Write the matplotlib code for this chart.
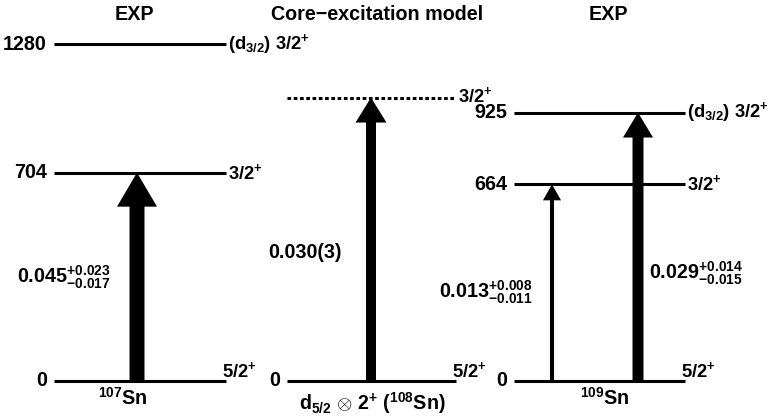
import numpy as np
import matplotlib
matplotlib.use("Agg")
import matplotlib.pyplot as plt
from matplotlib.patches import FancyArrowPatch

plt.rcParams['font.family'] = ['Liberation Sans', 'DejaVu Sans']
plt.rcParams['font.weight'] = 'bold'
plt.rcParams['mathtext.fontset'] = 'custom'
plt.rcParams['mathtext.rm'] = 'Liberation Sans:bold'
plt.rcParams['mathtext.it'] = 'Liberation Sans:bold'
plt.rcParams['mathtext.bf'] = 'Liberation Sans:bold'
plt.rcParams['mathtext.sf'] = 'Liberation Sans:bold'

# ---- level scheme data (keV) ----
panel_titles = ["EXP", "Core\u2212excitation model", "EXP"]
nucleus_labels = [r"$^{107}$Sn", r"d$_{5/2}$ $\otimes$ 2$^{+}$ ($^{108}$Sn)", r"$^{109}$Sn"]

sn107_energies = [0, 704, 1280]
sn107_spins = [r"5/2$^{+}$", r"3/2$^{+}$", r"(d$_{3/2}$) 3/2$^{+}$"]

model_energies = [0, 980]
model_spins = [r"5/2$^{+}$", r"3/2$^{+}$"]

sn109_energies = [0, 664, 925]
sn109_spins = [r"5/2$^{+}$", r"3/2$^{+}$", r"(d$_{3/2}$) 3/2$^{+}$"]

# transitions from the ground state: (final level energy, strength label)
sn107_trans = [(704, r"0.045$^{+0.023}_{-0.017}$")]
model_trans = [(980, "0.030(3)")]
sn109_trans = [(664, r"0.013$^{+0.008}_{-0.011}$"), (925, r"0.029$^{+0.014}_{-0.015}$")]

# ---- energy axis: piecewise linear, compressed at high energy ----
E_KNOTS = np.array([-500.0, 0.0, 700.0, 1000.0, 1300.0, 2000.0])
H_KNOTS = np.array([-111.1, 37.0, 244.3, 325.9, 377.4, 497.7])


def fwd(e):
    return np.interp(np.asarray(e, dtype=float), E_KNOTS, H_KNOTS)


def inv(h):
    return np.interp(np.asarray(h, dtype=float), H_KNOTS, E_KNOTS)


fig = plt.figure(figsize=(7.7, 4.18), dpi=100)
ax = fig.add_axes([0, 0, 1, 1])
ax.set_yscale('function', functions=(fwd, inv))
ax.set_xlim(0, 770)
ax.set_ylim(float(inv(0)), float(inv(418)))
ax.axis('off')

FS = 14.2
FS_SPIN = 13.2
LW = 2.2


def ypix(y_from_top):
    """Energy value at a given pixel row (measured from the top)."""
    return float(inv(418 - y_from_top))


def draw_levels(x0, x1, energies, spins, label_energy=True, dashed=(), lift=0):
    for e, s in zip(energies, spins):
        ls = (0, (1.2, 0.85)) if e in dashed else '-'
        ax.plot([x0, x1], [e, e], color='black', lw=LW, ls=ls,
                solid_capstyle='butt', zorder=3)
        if label_energy:
            ax.text(x0 - 7, e, f"{e}", ha='right', va='center',
                    fontsize=FS, fontweight='bold')
        if e == 0:
            ax.annotate(s, (x1, e), xytext=(-4, 4), textcoords='offset pixels',
                        ha='left', va='baseline', fontsize=FS_SPIN, fontweight='bold')
        else:
            ax.annotate(s, (x1, e), xytext=(2, lift), textcoords='offset pixels',
                        ha='left', va='center', fontsize=FS_SPIN, fontweight='bold')


def draw_arrow(x, e_to, head_len, head_w, tail_w):
    style = f"simple,head_length={head_len},head_width={head_w},tail_width={tail_w}"
    arr = FancyArrowPatch((x, 0), (x, e_to), arrowstyle=style, mutation_scale=1,
                          shrinkA=0, shrinkB=0, color='black', lw=0, zorder=2)
    ax.add_patch(arr)


# panel 1: 107Sn
draw_levels(54, 226, sn107_energies, sn107_spins)

# panel 2: core-excitation model (ground state labelled, excited state dashed)
draw_levels(287, 456, model_energies[:1], model_spins[:1])
draw_levels(287, 456, model_energies[1:], model_spins[1:],
            label_energy=False, dashed=(model_energies[1],), lift=2)

# panel 3: 109Sn
draw_levels(514, 685, sn109_energies, sn109_spins)

# transition arrows, shaft width growing with strength
draw_arrow(137, sn107_trans[0][0], 24.5, 28.8, 10.8)
draw_arrow(371, model_trans[0][0], 18.0, 22.3, 7.2)
draw_arrow(552, sn109_trans[0][0], 11.5, 13.0, 2.9)
draw_arrow(638, sn109_trans[1][0], 18.0, 21.6, 7.9)

# transition strengths
ax.text(17, ypix(277), sn107_trans[0][1], ha='left', va='center', fontsize=FS)
ax.text(268, ypix(253), model_trans[0][1], ha='left', va='center', fontsize=FS)
ax.text(439, ypix(292), sn109_trans[0][1], ha='left', va='center', fontsize=FS)
ax.text(649, ypix(273), sn109_trans[1][1], ha='left', va='center', fontsize=FS)

# titles
for xc, title in zip([134, 377, 608], panel_titles):
    ax.text(xc, ypix(15), title, ha='center', va='center', fontsize=FS)

# nucleus labels under the ground states
for xc, yc, lab in zip([123, 372, 605], [398, 403, 398], nucleus_labels):
    ax.text(xc, ypix(yc), lab, ha='center', va='center', fontsize=FS)

fig.savefig("out.png", dpi=100)
